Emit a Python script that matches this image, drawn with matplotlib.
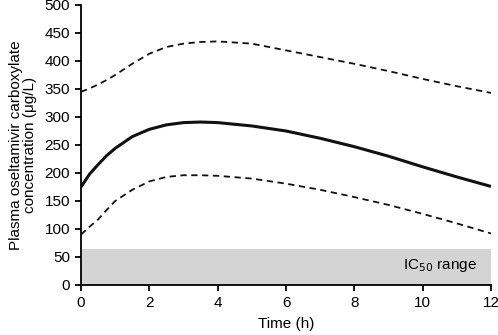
import matplotlib.pyplot as plt

plt.rcParams['font.family'] = ['Liberation Sans', 'DejaVu Sans']

# time points (h)
time_h = [0, 0.25, 0.5, 0.75, 1, 1.5, 2, 2.5, 3, 3.5, 4, 5, 6, 7, 8, 9, 10, 11, 12]
# median concentration (ug/L)
median = [175, 198, 215, 231, 244, 265, 278, 286, 290, 291, 290, 284, 275, 262, 247, 230, 211, 193, 176]
# upper and lower bounds
upper = [345, 351, 358, 366, 375, 395, 413, 425, 431, 434, 435, 431, 419, 407, 395, 382, 368, 355, 343]
lower = [90, 104, 117, 134, 150, 170, 185, 193, 196, 196, 195, 190, 181, 170, 157, 143, 127, 110, 92]

ic50_low = 0
ic50_high = 65

fig = plt.figure(figsize=(4.98, 3.35), dpi=100)
ax = fig.add_axes([81 / 498, 1 - 285 / 335, 410 / 498, 280 / 335])

ax.axhspan(ic50_low, ic50_high, xmin=0, xmax=1, color='#d4d4d4', lw=0, zorder=0)
ax.text(11.6, 35, 'IC$_{50}$ range', ha='right', va='center', fontsize=11)

ax.plot(time_h, median, color='#111111', lw=2.2, solid_capstyle='butt')
ax.plot(time_h, upper, color='#111111', lw=1.3, ls=(0, (3.5, 2.5)))
ax.plot(time_h, lower, color='#111111', lw=1.3, ls=(0, (3.5, 2.5)))

ax.set_xlim(0, 12)
ax.set_ylim(0, 500)
ax.set_xticks(range(0, 13, 2))
ax.set_yticks(range(0, 501, 50))
ax.spines['top'].set_visible(False)
ax.spines['right'].set_visible(False)
for s in ('left', 'bottom'):
    ax.spines[s].set_linewidth(1.3)
ax.tick_params(width=1.3, length=4, labelsize=11, direction='out', pad=4)
ax.set_xlabel('Time (h)', fontsize=11, labelpad=5)
ax.set_ylabel('Plasma oseltamivir carboxylate\nconcentration (\u03bcg/L)', fontsize=11, linespacing=1.0, labelpad=5)

fig.savefig('out.png', dpi=100)
